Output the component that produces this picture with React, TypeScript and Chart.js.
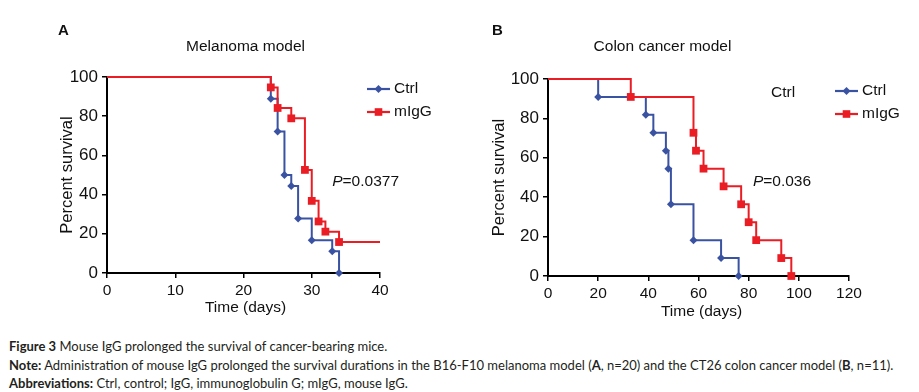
import React, { useEffect, useRef } from "react";
import { Chart, registerables } from "chart.js";

Chart.register(...registerables);

// ---------- data ----------
const seriesNames = ["Ctrl", "mIgG"];

// Panel A: melanoma model (time in days, percent survival)
const ctrlTimesA = [0, 24, 25, 26, 27, 28, 30, 33, 34];
const ctrlSurvA = [100, 88.9, 72.2, 50, 44.4, 27.8, 16.7, 11.1, 0];
const migTimesA = [0, 24, 25, 27, 29, 30, 31, 32, 34, 40];
const migSurvA = [100, 94.7, 84.2, 78.9, 52.6, 36.8, 26.3, 21.1, 15.8, 15.8];

// Panel B: colon cancer model
const ctrlTimesB = [0, 20, 39, 42, 47, 48, 49, 58, 69, 76];
const ctrlSurvB = [100, 90.9, 81.8, 72.7, 63.6, 54.5, 36.4, 18.2, 9.1, 0];
const migTimesB = [0, 33, 58, 59, 62, 70, 77, 80, 83, 93, 97];
const migSurvB = [100, 90.9, 72.7, 63.6, 54.5, 45.5, 36.4, 27.3, 18.2, 9.1, 0];

const xTicksA = [0, 10, 20, 30, 40];
const xTicksB = [0, 20, 40, 60, 80, 100, 120];
const yTicks = [0, 20, 40, 60, 80, 100];

const pValueA = "0.0377";
const pValueB = "0.036";

const BLUE = "#3a52a2";
const RED = "#ea1d25";
const FONT = "'Liberation Sans', Arial, sans-serif";

type PanelCfg = {
  letter: string;
  title: string;
  ctrlT: number[];
  ctrlS: number[];
  migT: number[];
  migS: number[];
  xTicks: number[];
  pValue: string;
  pPos: { x: number; y: number };
  canvasW: number;
  canvasH: number;
  area: { l: number; r: number; t: number; b: number };
  off: {
    letterX: number; letterY: number;
    titleX: number; titleY: number;
    yTitleX: number;
    xTitleX: number; xTitleY: number;
    legX0: number; legY0: number; legGap: number;
    strayCtrl?: { x: number; y: number };
  };
};

const panelA: PanelCfg = {
  letter: "A",
  title: "Melanoma model",
  ctrlT: ctrlTimesA, ctrlS: ctrlSurvA, migT: migTimesA, migS: migSurvA,
  xTicks: xTicksA,
  pValue: pValueA,
  pPos: { x: 33, y: 46.8 },
  canvasW: 460, canvasH: 335,
  area: { l: 107, r: 380, t: 77, b: 273 },
  off: {
    letterX: -49, letterY: -46,
    titleX: 2, titleY: -30,
    yTitleX: -40,
    xTitleX: 2, xTitleY: 35,
    legX0: -13, legY0: 12, legGap: 23,
  },
};

const panelB: PanelCfg = {
  letter: "B",
  title: "Colon cancer model",
  ctrlT: ctrlTimesB, ctrlS: ctrlSurvB, migT: migTimesB, migS: migSurvB,
  xTicks: xTicksB,
  pValue: pValueB,
  pPos: { x: 81.7, y: 48 },
  canvasW: 459, canvasH: 335,
  area: { l: 88, r: 389, t: 79, b: 276 },
  off: {
    letterX: -56, letterY: -48,
    titleX: -36, titleY: -32,
    yTitleX: -49,
    xTitleX: 3, xTitleY: 36,
    legX0: -14, legY0: 12, legGap: 23,
    strayCtrl: { x: -78, y: 14 },
  },
};

function markerRadii(surv: number[], r: number) {
  return surv.map((v, i) => (i > 0 && v < surv[i - 1] ? r : 0));
}

function drawMarker(ctx: CanvasRenderingContext2D, kind: string, x: number, y: number, color: string) {
  ctx.save();
  ctx.fillStyle = color;
  ctx.beginPath();
  if (kind === "rectRot") {
    const r = 4;
    ctx.moveTo(x, y - r);
    ctx.lineTo(x + r, y);
    ctx.lineTo(x, y + r);
    ctx.lineTo(x - r, y);
    ctx.closePath();
  } else {
    const s = 3.8;
    ctx.rect(x - s, y - s, 2 * s, 2 * s);
  }
  ctx.fill();
  ctx.restore();
}

function textPlugin(cfg: PanelCfg) {
  return {
    id: "panelText" + cfg.letter,
    afterDraw(chart: any) {
      const ctx: CanvasRenderingContext2D = chart.ctx;
      const a = chart.chartArea;
      const o = cfg.off;
      const cx = (a.left + a.right) / 2;
      ctx.save();
      ctx.fillStyle = "#111";
      ctx.textBaseline = "middle";

      // panel letter
      ctx.font = `bold 15px ${FONT}`;
      ctx.textAlign = "left";
      ctx.fillText(cfg.letter, a.left + o.letterX, a.top + o.letterY);

      // title
      ctx.font = `15.5px ${FONT}`;
      ctx.textAlign = "center";
      ctx.fillText(cfg.title, cx + o.titleX, a.top + o.titleY);

      // axis titles
      ctx.fillText("Time (days)", cx + o.xTitleX, a.bottom + o.xTitleY);
      ctx.save();
      ctx.translate(a.left + o.yTitleX, (a.top + a.bottom) / 2);
      ctx.rotate(-Math.PI / 2);
      ctx.font = `16.5px ${FONT}`;
      ctx.fillText("Percent survival", 0, 0);
      ctx.restore();

      // P value
      const px = chart.scales.x.getPixelForValue(cfg.pPos.x);
      const py = chart.scales.y.getPixelForValue(cfg.pPos.y);
      ctx.textAlign = "left";
      ctx.font = `italic 15.5px ${FONT}`;
      ctx.fillText("P", px, py);
      const pw = ctx.measureText("P").width;
      ctx.font = `15.5px ${FONT}`;
      ctx.fillText("=" + cfg.pValue, px + pw, py);

      // legend
      const colors = [BLUE, RED];
      const kinds = ["rectRot", "rect"];
      seriesNames.forEach((name, i) => {
        const y = a.top + o.legY0 + i * o.legGap;
        const x0 = a.right + o.legX0;
        const x1 = x0 + 23;
        ctx.strokeStyle = colors[i];
        ctx.lineWidth = 2.2;
        ctx.beginPath();
        ctx.moveTo(x0, y);
        ctx.lineTo(x1, y);
        ctx.stroke();
        drawMarker(ctx, kinds[i], (x0 + x1) / 2, y, colors[i]);
        ctx.fillStyle = "#111";
        ctx.font = `15.5px ${FONT}`;
        ctx.textAlign = "left";
        ctx.fillText(name, x1 + 4, y);
      });

      if (o.strayCtrl) {
        ctx.fillStyle = "#111";
        ctx.font = `15.5px ${FONT}`;
        ctx.textAlign = "left";
        ctx.fillText(seriesNames[0], a.right + o.strayCtrl.x, a.top + o.strayCtrl.y);
      }
      ctx.restore();
    },
  };
}

function Panel({ cfg, left }: { cfg: PanelCfg; left: number }) {
  const ref = useRef<HTMLCanvasElement | null>(null);
  useEffect(() => {
    if (!ref.current) return;
    const A = cfg.area;
    const xMax = cfg.xTicks[cfg.xTicks.length - 1];
    const chart = new Chart(ref.current, {
      type: "line",
      data: {
        datasets: [
          {
            label: seriesNames[0],
            data: cfg.ctrlT.map((t, i) => ({ x: t, y: cfg.ctrlS[i] })),
            stepped: "before",
            borderColor: BLUE,
            backgroundColor: BLUE,
            borderWidth: 2,
            pointStyle: "rectRot",
            pointRadius: markerRadii(cfg.ctrlS, 4),
            pointBorderWidth: 0,
            pointBackgroundColor: BLUE,
            pointBorderColor: BLUE,
            fill: false,
            clip: false,
            order: 2,
          } as any,
          {
            label: seriesNames[1],
            data: cfg.migT.map((t, i) => ({ x: t, y: cfg.migS[i] })),
            stepped: "before",
            borderColor: RED,
            backgroundColor: RED,
            borderWidth: 2,
            pointStyle: "rect",
            pointRadius: markerRadii(cfg.migS, 5.5),
            pointBorderWidth: 0,
            pointBackgroundColor: RED,
            pointBorderColor: RED,
            fill: false,
            clip: false,
            order: 1,
          } as any,
        ],
      },
      options: {
        responsive: false,
        animation: false,
        devicePixelRatio: 1,
        layout: {
          padding: {
            left: 0,
            right: cfg.canvasW - A.r,
            top: A.t,
            bottom: cfg.canvasH - A.b - 40,
          },
        },
        plugins: {
          legend: { display: false },
          tooltip: { enabled: false },
          title: { display: false },
        },
        scales: {
          x: {
            type: "linear",
            min: 0,
            max: xMax,
            afterBuildTicks: (s: any) => {
              s.ticks = cfg.xTicks.map((v) => ({ value: v }));
            },
            afterFit: (s: any) => {
              s.height = 40;
            },
            grid: {
              display: true,
              drawOnChartArea: false,
              drawTicks: true,
              tickLength: 5,
              color: "#000",
              lineWidth: 1.5,
            },
            border: { display: true, color: "#000", width: 2 },
            ticks: {
              color: "#111",
              font: { family: FONT, size: 15.5 },
              padding: 3,
              maxRotation: 0,
              autoSkip: false,
            },
          },
          y: {
            type: "linear",
            min: 0,
            max: 100,
            afterBuildTicks: (s: any) => {
              s.ticks = yTicks.map((v) => ({ value: v }));
            },
            afterFit: (s: any) => {
              s.width = A.l;
            },
            grid: {
              display: true,
              drawOnChartArea: false,
              drawTicks: true,
              tickLength: 5,
              color: "#000",
              lineWidth: 1.5,
            },
            border: { display: true, color: "#000", width: 2 },
            ticks: {
              color: "#111",
              font: { family: FONT, size: 17 },
              padding: 4,
              autoSkip: false,
            },
          },
        },
      },
      plugins: [textPlugin(cfg)],
    });
    return () => chart.destroy();
  }, [cfg]);
  return (
    <canvas
      ref={ref}
      width={cfg.canvasW}
      height={cfg.canvasH}
      style={{ position: "absolute", left, top: 0, width: cfg.canvasW, height: cfg.canvasH }}
    />
  );
}

export default function App() {
  const cap: React.CSSProperties = {
    fontFamily: "Lato, 'Open Sans', sans-serif",
    fontSize: 13,
    lineHeight: "18.5px",
    color: "#231f20",
    whiteSpace: "nowrap",
  };
  return (
    <div style={{ position: "absolute", left: 0, top: 0, width: 919, height: 392, background: "#fff", overflow: "hidden" }}>
      <Panel cfg={panelA} left={0} />
      <Panel cfg={panelB} left={460} />
      <div style={{ position: "absolute", left: 9, top: 337, ...cap }}>
        <div>
          <b>Figure 3</b> Mouse IgG prolonged the survival of cancer-bearing mice.
        </div>
        <div>
          <b>Note:</b> Administration of mouse IgG prolonged the survival durations in the B16-F10 melanoma model (<b>A</b>, n=20) and the CT26 colon cancer model (<b>B</b>, n=11).
        </div>
        <div>
          <b>Abbreviations:</b> Ctrl, control; IgG, immunoglobulin G; mIgG, mouse IgG.
        </div>
      </div>
    </div>
  );
}
